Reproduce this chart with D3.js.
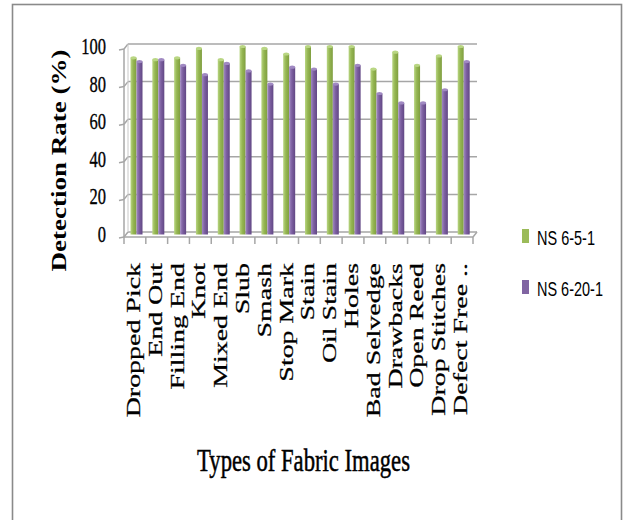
<!DOCTYPE html>
<html><head><meta charset="utf-8">
<script src="https://cdn.jsdelivr.net/npm/d3@7"></script>
<style>body{margin:0;background:#fff}svg{display:block}</style>
</head><body>
<svg id="c" width="623" height="520"></svg>
<script>
const categories = ["Dropped Pick","End Out","Filling  End","Knot","Mixed End","Slub","Smash","Stop Mark","Stain","Oil Stain","Holes","Bad Selvedge","Drawbacks","Open Reed","Drop Stitches","Defect Free .."];
const seriesNames = ["NS 6-5-1","NS 6-20-1"];
const ns651  = [94,93,94,99,93,100,99,96,100,100,100,88,97,90,95,100];
const ns6201 = [92,93,90,85,91,87,80,89,88,80,90,75,70,70,77,92];
const yTicks = [0,20,40,60,80,100];
const colors = ["#9BBB59","#8064A2"];

const svg = d3.select("#c");
const defs = svg.append("defs");
const grads = [["#b9d683","#95b652","#7f9e40"],["#a089c2","#7c5fa0","#614784"]];
grads.forEach((g,i)=>{
  const lg = defs.append("linearGradient").attr("id","g"+i).attr("x1",0).attr("x2",1).attr("y1",0).attr("y2",0);
  lg.append("stop").attr("offset","0%").attr("stop-color",g[0]);
  lg.append("stop").attr("offset","45%").attr("stop-color",g[1]);
  lg.append("stop").attr("offset","100%").attr("stop-color",g[2]);
});

// frame
svg.append("rect").attr("x",12.5).attr("y",4.5).attr("width",609).attr("height",530)
  .attr("fill","none").attr("stroke","#8a8a8a").attr("stroke-width",1.6);

const x = d3.scaleBand().domain(categories).range([124,473]).padding(0);
const inner = d3.scaleBand().domain(seriesNames).range([6.5,18.5]).padding(0);
const yBack = d3.scaleLinear().domain([0,100]).range([232,44]);
const yFront = d3.scaleLinear().domain([0,100]).range([237,49]);
const yBar = d3.scaleLinear().domain([0,100]).range([234.5,46.5]);
const dx = 4;

const grid = svg.append("g").attr("stroke","#a6a6a6").attr("stroke-width",1.5).attr("fill","none");
yTicks.forEach(t=>{
  grid.append("line").attr("x1",124+dx).attr("x2",473+dx).attr("y1",yBack(t)).attr("y2",yBack(t));
  grid.append("line").attr("x1",124).attr("x2",124+dx).attr("y1",yFront(t)).attr("y2",yBack(t));
  grid.append("line").attr("x1",119).attr("x2",124).attr("y1",yFront(t)+1).attr("y2",yFront(t));
});
grid.append("line").attr("x1",124).attr("x2",124).attr("y1",yFront(100)).attr("y2",yFront(0));
grid.append("line").attr("x1",124+dx).attr("x2",124+dx).attr("y1",yBack(100)).attr("y2",yBack(0)).attr("stroke","#c8c8c8").attr("stroke-width",1);
grid.append("line").attr("x1",124).attr("x2",473).attr("y1",yFront(0)).attr("y2",yFront(0));
grid.append("line").attr("x1",473).attr("x2",473+dx).attr("y1",yFront(0)).attr("y2",yBack(0));
// x ticks
const xb = categories.map(c=>x(c)).concat([473]);
xb.forEach(v=>grid.append("line").attr("x1",v).attr("x2",v).attr("y1",yFront(0)).attr("y2",yFront(0)+7));

// bars
const series = [ns651, ns6201];
series.forEach((vals,si)=>{
  const g = svg.append("g");
  g.selectAll("rect").data(vals).join("rect")
    .attr("x",(d,i)=>x(categories[i])+inner(seriesNames[si]))
    .attr("y",d=>yBar(d))
    .attr("width",inner.bandwidth())
    .attr("height",d=>yBar(0)-yBar(d))
    .attr("fill","url(#g"+si+")");
  g.selectAll("ellipse").data(vals).join("ellipse")
    .attr("cx",(d,i)=>x(categories[i])+inner(seriesNames[si])+inner.bandwidth()/2)
    .attr("cy",d=>yBar(d))
    .attr("rx",inner.bandwidth()/2)
    .attr("ry",1.6)
    .attr("fill",grads[si][0]);
});

// y tick labels
const serif = "'Liberation Serif','Times New Roman',serif";
yTicks.forEach(t=>{
  svg.append("text").attr("transform",`translate(106,${yFront(t)+5}) scale(1,1.35)`)
    .attr("text-anchor","end").attr("font-family",serif).attr("font-size",16.5).attr("fill","#000")
    .attr("stroke","#000").attr("stroke-width",0.25).text(t);
});

// x tick labels
const labG = svg.append("g");
categories.forEach(c=>{
  const t = labG.append("text").attr("font-family",serif).attr("font-size",19).attr("text-anchor","end")
    .attr("fill","#000").attr("stroke","#000").attr("stroke-width",0.25).text(c);
  t.attr("transform",`translate(${x(c)+x.bandwidth()/2+5},263) rotate(-90) scale(1.47,1)`);
});

// y title
svg.append("text").attr("transform","translate(66,160.5) rotate(-90) scale(1.35,1)")
  .attr("text-anchor","middle").attr("font-family",serif).attr("font-weight","bold").attr("font-size",20)
  .text("Detection Rate (%)");

// x title
const xt = svg.append("text").attr("text-anchor","middle").attr("font-family",serif).attr("font-size",22.5)
  .attr("stroke","#000").attr("stroke-width",0.35)
  .text("Types of Fabric Images");
const xtw = xt.node().getComputedTextLength();
const sx = 213/xtw;
xt.attr("transform",`translate(303.5,471) scale(${sx},1.45)`);

// legend
const narrow = "'Liberation Sans Narrow','Arial Narrow','Liberation Sans',sans-serif";
const legY = [229,280];
const legW = [58,66];
seriesNames.forEach((s,i)=>{
  svg.append("rect").attr("x",522).attr("y",legY[i]).attr("width",7).attr("height",14).attr("fill",colors[i]);
  const lt = svg.append("text").attr("font-family",narrow).attr("font-size",18).text(s);
  const w = lt.node().getComputedTextLength();
  lt.attr("transform",`translate(537,${legY[i]+15.5}) scale(${legW[i]/w},1.1)`);
});
</script>
</body></html>
